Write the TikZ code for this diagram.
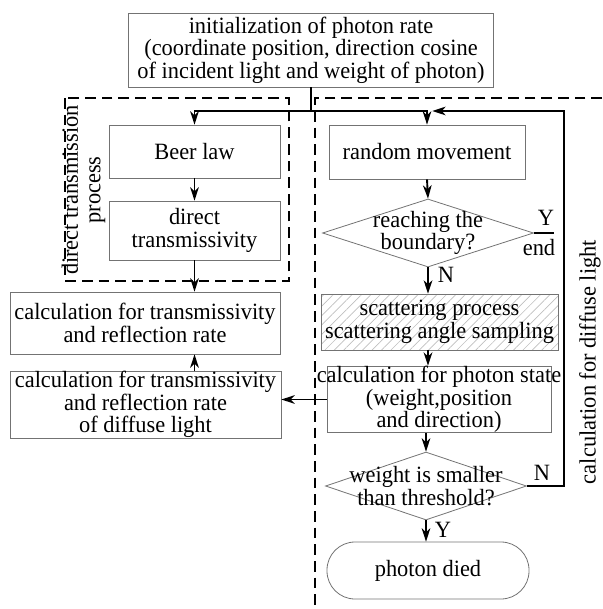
\documentclass[tikz,border=0pt]{standalone}
\usepackage{fontspec}
\setmainfont{Liberation Serif}[FakeStretch=0.96]
\usetikzlibrary{arrows.meta,shapes.geometric,patterns.meta}

\tikzset{every picture/.style={line width=0.75pt}}
\tikzset{
  procbox/.style={draw=black!55, line width=0.6pt, inner sep=0pt, align=center, font=\fontsize{17.5pt}{17pt}\selectfont},
  decide/.style={draw=black!55, line width=0.6pt, shape=diamond, inner sep=0pt},
  txt/.style={inner sep=0pt, align=center, font=\fontsize{17.5pt}{17pt}\selectfont},
  link/.style={line width=1.4pt},
  flow/.style={line width=1.4pt, -{Stealth[length=10pt,width=6.5pt,inset=3pt]}},
  region/.style={line width=1.5pt, dash pattern=on 8pt off 4.5pt},
}

\begin{document}
\begin{tikzpicture}[x=0.75pt,y=0.75pt,yscale=-1,xscale=1]
\useasboundingbox (0,0) rectangle (602,609);

%Dashed regions
\draw[region] (65,98) rectangle (289,281);
\draw[region] (602,98) -- (315,98) -- (315,609);

%Flowchart: Process
\node[procbox, minimum width=273.75pt, minimum height=55.5pt] (init) at (311,50) {initialization of photon rate\\(coordinate position, direction cosine\\of incident light and weight of photon)};
%Flowchart: Process
\node[procbox, minimum width=128.25pt, minimum height=39.75pt] (beer) at (194.5,151.5) {Beer law};
%Flowchart: Process
\node[procbox, minimum width=128.25pt, minimum height=44.25pt] (direct) at (194.5,230.5) {direct\\transmissivity};
%Flowchart: Process
\node[procbox, minimum width=202.5pt, minimum height=46.5pt] (calcone) at (145,323) {calculation for transmissivity\\and reflection rate};
%Flowchart: Process
\node[procbox, minimum width=203.25pt, minimum height=50.25pt] (calctwo) at (145.5,404.5) {calculation for transmissivity\\and reflection rate\\of diffuse light};
%Flowchart: Process
\node[procbox, minimum width=147pt, minimum height=40.5pt] (rand) at (427,152) {random movement};
%Flowchart: Decision
\node[decide, minimum width=158.25pt, minimum height=51pt] (reach) at (428,233) {};
%Flowchart: Process (hatched)
\node[procbox, minimum width=177.75pt, minimum height=42pt, pattern={Lines[angle=45,distance=5pt,line width=0.5pt]}, pattern color=black!25] (scatter) at (439.5,322) {scattering process\\scattering angle sampling};
%Flowchart: Process
\node[procbox, minimum width=168pt, minimum height=42.75pt] (state) at (439,399.5) {\makebox[0pt][c]{calculation for photon state}\\(weight,position\\and direction)};
%Flowchart: Decision
\node[decide, minimum width=150.75pt, minimum height=51pt] (weight) at (426,486) {};
%Flowchart: Terminator
\node[procbox, rounded corners=21pt, minimum width=151.5pt, minimum height=42.75pt] (died) at (428,570.5) {photon died};

% Text Node
\node[txt] (reachtxt) at (reach) {reaching the\\boundary?};
% Text Node
\node[txt] (weighttxt) at (weight) {weight is smaller\\than threshold?};
% Text Node
\node[txt, rotate=90] (dtp) at (83.5,190) {direct transmission\\process};
% Text Node
\node[txt, rotate=90] (cdl) at (590,362) {calculation for diffuse light};

%Connectors
\coordinate (fork) at (311,111);
\coordinate (endpt) at (554,233);
\coordinate (loopbot) at (564,486);
\coordinate (looptop) at (564,111);
\draw[link] (init.south) -- (fork);
\draw[flow] (fork) -| (beer.north);
\draw[flow] (fork) -| (rand.north);
\draw[flow] (beer.south) -- (direct.north);
\draw[flow] (direct.south) -- (direct.south |- calcone.north);
\draw[flow] (calctwo.north -| beer.south) -- (calcone.south -| beer.south);
\draw[flow] (rand.south) -- (reach.north);
\draw[link] (reach.east) -- (endpt);
\draw[flow] (reach.south) -- (reach.south |- scatter.north);
\draw[flow] (reach.south |- scatter.south) -- (reach.south |- state.north);
\draw[flow] (state.west) -- (state.west -| calctwo.east);
\draw[flow] (weight.north |- state.south) -- (weight.north);
\draw[flow] (weight.south) -- (weight.south |- died.north);
\draw[flow] (weight.east) -- (loopbot) -- (looptop) -- ([xshift=4pt]rand.north |- looptop);

% Text Node
\node[txt] (yesa) at (546,218) {Y};
% Text Node
\node[txt] (fin) at (539,248) {end};
% Text Node
\node[txt] (noa) at (446,275) {N};
% Text Node
\node[txt] (nob) at (542,473) {N};
% Text Node
\node[txt] (yesb) at (443,530) {Y};
\end{tikzpicture}
\end{document}
